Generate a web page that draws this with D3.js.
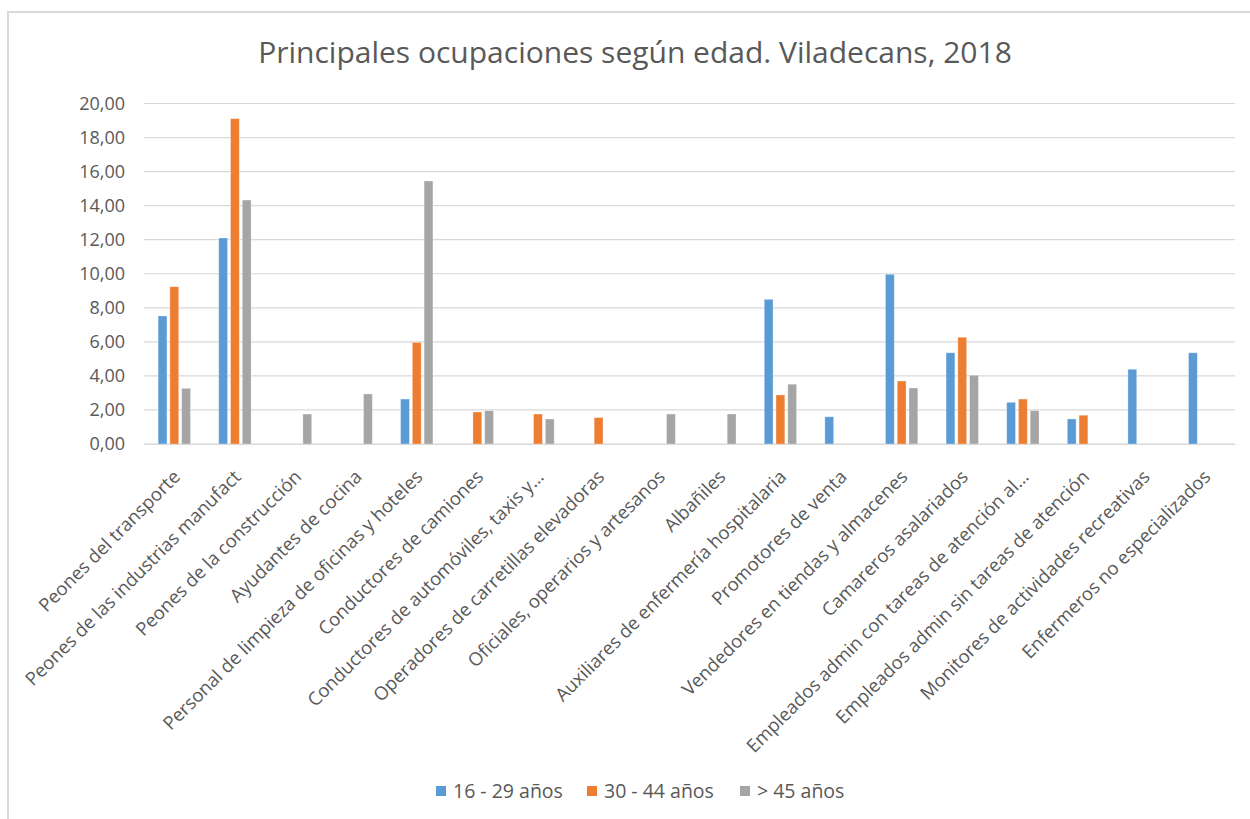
<!DOCTYPE html>
<meta charset="utf-8">
<script src="https://d3js.org/d3.v7.min.js"></script>
<style>
  body { margin: 0; background: #fff; }
  text { font-family: "Open Sans", sans-serif; fill: #595959; }
</style>
<div id="chart"></div>
<script>
// categories (x axis)
var occupations = [
  "Peones del transporte",
  "Peones de las industrias manufact",
  "Peones de la construcción",
  "Ayudantes de cocina",
  "Personal de limpieza de oficinas y hoteles",
  "Conductores de camiones",
  "Conductores de automóviles, taxis y…",
  "Operadores de carretillas elevadoras",
  "Oficiales, operarios y artesanos",
  "Albañiles",
  "Auxiliares de enfermería hospitalaria",
  "Promotores de venta",
  "Vendedores en tiendas y almacenes",
  "Camareros asalariados",
  "Empleados admin con tareas de atención al…",
  "Empleados admin sin tareas de atención",
  "Monitores de actividades recreativas",
  "Enfermeros no especializados"
];
var seriesNames = ["16 - 29 años", "30 - 44 años", "> 45 años"];
// null = no bar
var age16_29 = [7.52, 12.10, null, null, 2.64, null, null, null, null, null, 8.50, 1.60, 9.97, 5.36, 2.45, 1.47, 4.39, 5.36];
var age30_44 = [9.24, 19.11, null, null, 5.97, 1.88, 1.76, 1.55, null, null, 2.88, null, 3.70, 6.27, 2.64, 1.69, null, null];
var age45 = [3.27, 14.33, 1.76, 2.94, 15.45, 1.96, 1.47, null, 1.76, 1.76, 3.51, null, 3.29, 4.04, 1.96, null, null, null];
var yTicks = [0, 2, 4, 6, 8, 10, 12, 14, 16, 18, 20];
var colors = ["#5b9bd5", "#ed7d31", "#a5a5a5"];

var W = 1250, H = 819;
var svg = d3.select("#chart").append("svg").attr("width", W).attr("height", H);

// chart border (only top/left visible in frame)
svg.append("rect").attr("x", 8).attr("y", 12).attr("width", 1300).attr("height", 900)
  .attr("fill", "none").attr("stroke", "#d9d9d9").attr("stroke-width", 2);

var plotLeft = 144, plotRight = 1235, plotTop = 103.5, plotBottom = 444;

var x = d3.scaleBand().domain(occupations).range([plotLeft, plotRight]).paddingInner(0).paddingOuter(0);
var xs = d3.scaleBand().domain(seriesNames).range([0, x.bandwidth()]).paddingInner(0.25).paddingOuter(1.2);
var y = d3.scaleLinear().domain([0, 20]).range([plotBottom, plotTop]);

// grid
svg.append("g").selectAll("line").data(yTicks).enter().append("line")
  .attr("x1", plotLeft).attr("x2", plotRight)
  .attr("y1", function(d) { return y(d); }).attr("y2", function(d) { return y(d); })
  .attr("stroke", "#d9d9d9").attr("stroke-width", 1.2);

// y axis labels
var yAxis = d3.axisLeft(y).tickValues(yTicks).tickSize(0).tickPadding(19)
  .tickFormat(function(d) { return d3.format(".2f")(d).replace(".", ","); });
var gy = svg.append("g").attr("transform", "translate(" + plotLeft + ",0)").call(yAxis);
gy.select(".domain").remove();
gy.selectAll("text").style("font-size", "18px").attr("fill", "#595959");

// bars
var table = [];
occupations.forEach(function(o, i) {
  [age16_29, age30_44, age45].forEach(function(s, j) {
    if (s[i] != null) table.push({ occ: o, ser: seriesNames[j], v: s[i], c: colors[j] });
  });
});
svg.append("g").selectAll("rect").data(table).enter().append("rect")
  .attr("x", function(d) { return x(d.occ) + xs(d.ser); })
  .attr("width", xs.bandwidth())
  .attr("y", function(d) { return y(d.v); })
  .attr("height", function(d) { return y(0) - y(d.v); })
  .attr("fill", function(d) { return d.c; })
  .attr("stroke", "#ffffff").attr("stroke-opacity", 0.4).attr("stroke-width", 0.8);

// x axis
var xAxis = d3.axisBottom(x).tickSize(0).tickPadding(0);
var gx = svg.append("g").attr("transform", "translate(0," + plotBottom + ")").call(xAxis);
gx.select(".domain").attr("stroke", "#d9d9d9").attr("stroke-width", 1.2);
gx.selectAll(".tick text")
  .style("font-size", "18.5px").attr("fill", "#595959")
  .attr("text-anchor", "end")
  .attr("dy", null).attr("y", 0)
  .attr("transform", "translate(7,34) rotate(-45)");

// title
svg.append("text").attr("x", 635).attr("y", 63).attr("text-anchor", "middle")
  .style("font-size", "30px").text("Principales ocupaciones según edad. Viladecans, 2018");

// legend
var legX = [436, 587, 740];
var leg = svg.append("g").selectAll("g").data(seriesNames).enter().append("g")
  .attr("transform", function(d, i) { return "translate(" + legX[i] + ",786)"; });
leg.append("rect").attr("width", 10).attr("height", 10).attr("fill", function(d, i) { return colors[i]; });
leg.append("text").attr("x", 17).attr("y", 11.5).style("font-size", "19.5px").text(function(d) { return d; });
</script>
